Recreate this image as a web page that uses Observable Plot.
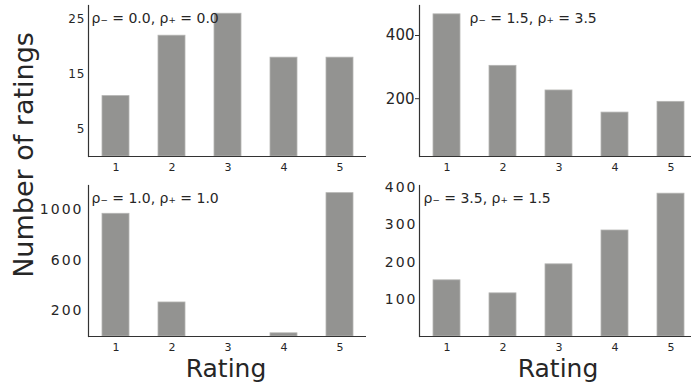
<!DOCTYPE html>
<html>
<head>
<meta charset="utf-8">
<script src="https://cdn.jsdelivr.net/npm/d3@7"></script>
<script src="https://cdn.jsdelivr.net/npm/@observablehq/plot@0.6"></script>
<style>
  html, body { margin: 0; padding: 0; background: #fff; }
  #chart { position: relative; width: 691px; height: 383px; overflow: hidden; font-family: "DejaVu Sans", sans-serif; color: #262626; }
  #chart svg { position: absolute; overflow: visible; }
  .lbl { position: absolute; white-space: nowrap; color: #262626; line-height: 1; }
</style>
</head>
<body>
<div id="chart"></div>
<script>
const ratings = [1, 2, 3, 4, 5];
const countsA = [11, 22, 26, 18, 18];          // rho- = 0.0, rho+ = 0.0
const countsB = [467, 304, 226, 156, 190];     // rho- = 1.5, rho+ = 3.5
const countsC = [963, 267, 0, 25, 1125];       // rho- = 1.0, rho+ = 1.0
const countsD = [151, 116, 194, 285, 384];     // rho- = 3.5, rho+ = 1.5
const titles = ["ρ₋ = 0.0, ρ₊ = 0.0", "ρ₋ = 1.5, ρ₊ = 3.5", "ρ₋ = 1.0, ρ₊ = 1.0", "ρ₋ = 3.5, ρ₊ = 1.5"];
const ticksA = [5, 15, 25];
const ticksB = [200, 400];
const ticksC = [200, 600, 1000];
const ticksD = [100, 200, 300, 400];
const xLabel = "Rating";
const yLabel = "Number of ratings";

const chart = document.getElementById("chart");

function panel({counts, ticks, domain, title, left, top, marginLeft, yFont, yLetter, yTickSize, yTickPad, titleDx}) {
  const data = ratings.map((r, i) => ({rating: r, count: counts[i]}));
  const svg = Plot.plot({
    width: marginLeft + 278 + 8,
    height: 175,
    marginLeft,
    marginRight: 8,
    marginTop: 5,
    marginBottom: 19,
    style: {background: "transparent", color: "#262626", overflow: "visible", fontFamily: "DejaVu Sans, sans-serif"},
    x: {type: "band", domain: ratings, paddingInner: 0.52, paddingOuter: 0.24, label: null},
    y: {domain, label: null},
    marks: [
      Plot.barY(data, {x: "rating", y: "count", fill: "#939391", stroke: "#b4b4b2", strokeWidth: 0.8, clip: true}),
      Plot.axisX({tickSize: 0, tickPadding: 7, fontSize: 11, fill: "#262626"}),
      Plot.axisY({ticks, tickFormat: d3.format("d"), tickSize: yTickSize, tickPadding: yTickPad, fontSize: yFont, stroke: "#333", fill: "#262626"}),
      Plot.ruleY([domain[0]], {stroke: "#333", strokeWidth: 1.2}),
      Plot.frame({anchor: "left", stroke: "#333", strokeWidth: 1.2}),
      Plot.text([title], {frameAnchor: "top-left", dx: titleDx, dy: 8, fontSize: 14, fill: "#262626", textAnchor: "start", lineAnchor: "top"})
    ]
  });
  svg.style.left = left + "px";
  svg.style.top = top + "px";
  svg.querySelectorAll("[aria-label='y-axis tick label'] text").forEach(t => {
    t.style.letterSpacing = yLetter + "px";
  });
  chart.appendChild(svg);
}

panel({counts: countsA, ticks: ticksA, domain: [0, 27.5], title: titles[0], left: 0, top: 0, marginLeft: 88, yFont: 12, yLetter: 1, yTickSize: 0, yTickPad: 3, titleDx: 3});
panel({counts: countsB, ticks: ticksB, domain: [17, 495], title: titles[1], left: 345, top: 0, marginLeft: 74, yFont: 15, yLetter: 0, yTickSize: 4, yTickPad: 1, titleDx: 50});
panel({counts: countsC, ticks: ticksC, domain: [0, 1185], title: titles[2], left: 0, top: 180, marginLeft: 88, yFont: 14, yLetter: 2, yTickSize: 0, yTickPad: 5, titleDx: 3});
panel({counts: countsD, ticks: ticksD, domain: [0, 406], title: titles[3], left: 345, top: 180, marginLeft: 74, yFont: 14, yLetter: 2, yTickSize: 0, yTickPad: 2, titleDx: 4});

function addLabel(text, css) {
  const d = document.createElement("div");
  d.className = "lbl";
  d.textContent = text;
  Object.assign(d.style, css);
  chart.appendChild(d);
}
addLabel(yLabel, {fontSize: "27px", left: "23px", top: "155px", transform: "translate(-50%, -50%) rotate(-90deg)"});
addLabel(xLabel, {fontSize: "25px", left: "226px", top: "368px", transform: "translate(-50%, -50%)"});
addLabel(xLabel, {fontSize: "25px", left: "558px", top: "368px", transform: "translate(-50%, -50%)"});
</script>
</body>
</html>
